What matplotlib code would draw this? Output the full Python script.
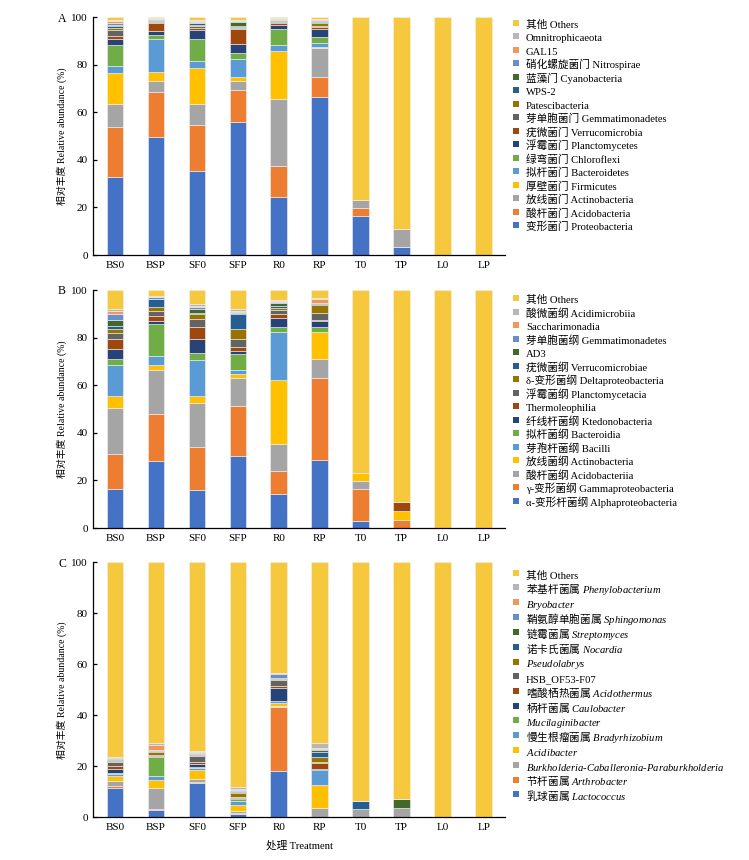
import matplotlib
matplotlib.use("Agg")
import matplotlib.pyplot as plt
from matplotlib.lines import Line2D
import numpy as np

plt.rcParams['font.family'] = ['Liberation Serif', 'Noto Sans CJK SC']
plt.rcParams['mathtext.fontset'] = 'custom'
plt.rcParams['mathtext.rm'] = 'Noto Sans CJK SC'
plt.rcParams['mathtext.it'] = 'Liberation Serif:italic'
plt.rcParams['axes.unicode_minus'] = False

samples = ["BS0", "BSP", "SF0", "SFP", "R0", "RP", "T0", "TP", "L0", "LP"]

colors = ["#4472C4", "#ED7D31", "#A5A5A5", "#FFC000", "#5B9BD5", "#70AD47",
          "#264478", "#9E480E", "#636363", "#997300", "#255E91", "#43682B",
          "#698ED0", "#F1975A", "#B7B7B7", "#F6C83E"]

# ---------- Panel A: phylum ----------
phylum_labels = ["变形菌门 Proteobacteria", "酸杆菌门 Acidobacteria", "放线菌门 Actinobacteria",
                 "厚壁菌门 Firmicutes", "拟杆菌门 Bacteroidetes", "绿弯菌门 Chloroflexi",
                 "浮霉菌门 Planctomycetes", "疣微菌门 Verrucomicrobia", "芽单胞菌门 Gemmatimonadetes",
                 "Patescibacteria", "WPS-2", "蓝藻门 Cyanobacteria", "硝化螺旋菌门 Nitrospirae",
                 "GAL15", "Omnitrophicaeota", "其他 Others"]
#                 BS0   BSP   SF0   SFP   R0    RP    T0    TP   L0   LP
phylum_values = [[33.0, 49.6, 35.5, 56.1, 24.5, 66.3, 16.5, 3.5, 0, 0],
                 [20.7, 19.0, 19.2, 13.2, 12.8, 8.6, 3.4, 0, 0, 0],
                 [10.0, 4.8, 9.0, 4.1, 28.2, 12.2, 3.4, 7.5, 0, 0],
                 [13.0, 3.6, 15.1, 1.6, 20.5, 0.2, 0, 0, 0, 0],
                 [2.8, 13.7, 3.0, 7.3, 2.5, 1.9, 0, 0, 0, 0],
                 [9.0, 1.7, 8.9, 2.7, 6.5, 2.7, 0, 0, 0, 0],
                 [2.4, 1.7, 4.0, 3.9, 1.6, 3.1, 0, 0, 0, 0],
                 [1.4, 3.7, 1.0, 6.1, 0.9, 0.8, 0, 0, 0, 0],
                 [2.5, 0.4, 0.7, 0.4, 0.4, 0.4, 0, 0, 0, 0],
                 [0.8, 0.3, 0.3, 0.4, 0.3, 1.6, 0, 0, 0, 0],
                 [0.8, 0.3, 0.8, 0.4, 0.3, 0.4, 0, 0, 0, 0],
                 [0.4, 0.2, 0.3, 1.7, 0.2, 0.4, 0, 0, 0, 0],
                 [0.7, 0.2, 0.4, 0.4, 0.3, 0.3, 0, 0, 0, 0],
                 [1.0, 0.2, 0.3, 0.3, 0.3, 0.2, 0, 0, 0, 0],
                 [0.4, 0.2, 0.4, 0.3, 0.2, 0.2, 0, 0, 0, 0],
                 [1.1, 0.4, 1.1, 1.1, 0.5, 0.7, 76.7, 89.0, 100, 100]]

# ---------- Panel B: class ----------
class_labels = ["α-变形杆菌纲 Alphaproteobacteria", "γ-变形菌纲 Gammaproteobacteria",
                "酸杆菌纲 Acidobacteriia", "放线菌纲 Actinobacteria", "芽孢杆菌纲 Bacilli",
                "拟杆菌纲 Bacteroidia", "纤线杆菌纲 Ktedonobacteria", "Thermoleophilia",
                "浮霉菌纲 Planctomycetacia", "δ-变形菌纲 Deltaproteobacteria",
                "疣微菌纲 Verrucomicrobiae", "AD3", "芽单胞菌纲 Gemmatimonadetes",
                "Saccharimonadia", "酸微菌纲 Acidimicrobiia", "其他 Others"]
class_values = [[16.5, 28.3, 16.1, 30.3, 14.3, 28.7, 3.1, 0, 0, 0],
                [14.7, 19.7, 17.9, 21.0, 9.5, 34.5, 13.4, 3.5, 0, 0],
                [19.4, 18.5, 18.5, 11.9, 11.6, 7.9, 3.4, 0, 0, 0],
                [4.9, 2.0, 3.0, 1.6, 26.6, 11.3, 3.3, 3.6, 0, 0],
                [13.0, 3.9, 14.9, 1.6, 20.5, 0.0, 0, 0, 0, 0],
                [2.4, 13.5, 3.0, 6.8, 2.0, 1.9, 0, 0, 0, 0],
                [4.5, 1.2, 6.2, 1.0, 3.9, 2.5, 0, 0, 0, 0],
                [4.2, 2.1, 4.7, 1.7, 1.5, 0.5, 0, 3.8, 0, 0],
                [2.3, 1.8, 3.7, 3.4, 1.7, 3.0, 0, 0, 0, 0],
                [1.7, 1.7, 1.8, 4.5, 0.8, 3.3, 0, 0, 0, 0],
                [1.3, 3.4, 0.5, 6.3, 0.7, 0.7, 0, 0, 0, 0],
                [2.6, 0.3, 1.9, 0.2, 1.4, 0.1, 0, 0, 0, 0],
                [2.6, 0.5, 0.8, 0.3, 0.4, 0.2, 0, 0, 0, 0],
                [0.9, 0.2, 0.3, 0.7, 0.4, 1.8, 0, 0, 0, 0],
                [1.0, 0.2, 0.8, 0.9, 0.6, 0.1, 0, 0, 0, 0],
                [8.0, 2.7, 5.9, 7.8, 4.1, 3.5, 76.8, 89.1, 100, 100]]

# ---------- Panel C: genus ----------
genus_labels = ["$\\mathrm{乳球菌属}$ $\\mathit{Lactococcus}$",
                "$\\mathrm{节杆菌属}$ $\\mathit{Arthrobacter}$",
                "$\\mathit{Burkholderia}$-$\\mathit{Caballeronia}$-$\\mathit{Paraburkholderia}$",
                "$\\mathit{Acidibacter}$",
                "$\\mathrm{慢生根瘤菌属}$ $\\mathit{Bradyrhizobium}$",
                "$\\mathit{Mucilaginibacter}$",
                "$\\mathrm{柄杆菌属}$ $\\mathit{Caulobacter}$",
                "$\\mathrm{嗜酸栖热菌属}$ $\\mathit{Acidothermus}$",
                "HSB_OF53-F07",
                "$\\mathit{Pseudolabrys}$",
                "$\\mathrm{诺卡氏菌属}$ $\\mathit{Nocardia}$",
                "$\\mathrm{链霉菌属}$ $\\mathit{Streptomyces}$",
                "$\\mathrm{鞘氨醇单胞菌属}$ $\\mathit{Sphingomonas}$",
                "$\\mathit{Bryobacter}$",
                "$\\mathrm{苯基杆菌属}$ $\\mathit{Phenylobacterium}$",
                "其他 Others"]
genus_values = [[11.6, 3.0, 13.6, 1.4, 18.3, 0, 0, 0, 0, 0],
                [0.6, 0.1, 0.4, 0.1, 25.1, 0, 0, 0, 0, 0],
                [1.9, 8.3, 0.9, 1.1, 0.4, 3.5, 3.1, 3.5, 0, 0],
                [2.0, 3.1, 3.7, 2.4, 0.9, 9.0, 0, 0, 0, 0],
                [0.9, 1.6, 0.9, 1.4, 0.9, 6.1, 0, 0, 0, 0],
                [0.4, 7.4, 0.2, 0.7, 0.2, 0.1, 0, 0, 0, 0],
                [1.6, 0.3, 1.3, 0.4, 4.8, 0.1, 0, 0, 0, 0],
                [1.0, 0.2, 0.8, 0.3, 0.8, 2.6, 0, 0, 0, 0],
                [1.8, 0.4, 2.1, 0.2, 2.5, 0.2, 0, 0, 0, 0],
                [0.4, 1.1, 0.4, 1.7, 0.3, 2.1, 0, 0, 0, 0],
                [0.3, 0.3, 0.4, 0.4, 0.2, 1.8, 3.2, 0, 0, 0],
                [0.3, 0.2, 0.2, 0.2, 0.2, 1.0, 0, 3.6, 0, 0],
                [0.3, 0.3, 0.2, 0.3, 1.5, 0.2, 0, 0, 0, 0],
                [0.4, 2.1, 0.4, 0.6, 0.4, 0.5, 0, 0, 0, 0],
                [0.3, 0.6, 0.4, 0.7, 0.2, 2.0, 0, 0, 0, 0],
                [76.2, 71.0, 74.1, 88.1, 43.3, 70.8, 93.7, 92.9, 100, 100]]

W, H = 749, 860
fig = plt.figure(figsize=(W / 100, H / 100), dpi=100)

FS = 8
LFS = 7.7
left, right = 93.3 / W, 505 / W
# letter, labels, values, axes top px, axes bottom px, legend top px, handleheight, labelspacing
panels = [
    ("A", phylum_labels, phylum_values, 17.3, 255.0, 17.5, 1.49, 0.05),
    ("B", class_labels, class_values, 290.0, 528.0, 293.0, 1.49, 0.05),
    ("C", genus_labels, genus_values, 562.3, 817.3, 566.8, 2.0, -0.17),
]

x = np.arange(len(samples))
for letter, labels, values, ytop, ybot, legtop, hh, lspace in panels:
    ax = fig.add_axes([left, 1 - ybot / H, right - left, (ybot - ytop) / H])
    bottom = np.zeros(len(samples))
    handles = []
    for i, (lab, vals) in enumerate(zip(labels, values)):
        vals = np.array(vals, dtype=float)
        ax.bar(x, vals, width=0.41, bottom=bottom, color=colors[i],
               edgecolor="#f2f2f2", linewidth=0.4)
        bottom += vals
        handles.append(Line2D([], [], linestyle='none', marker='s', markersize=4.4,
                              markerfacecolor=colors[i], markeredgewidth=0, label=lab))
    ax.set_xlim(-0.53, 9.52)
    ax.set_ylim(0, 100)
    ax.set_yticks([0, 20, 40, 60, 80, 100])
    ax.set_xticks(x)
    ax.set_xticklabels(samples)
    ax.spines['top'].set_visible(False)
    ax.spines['right'].set_visible(False)
    ax.spines['left'].set_linewidth(0.9)
    ax.spines['bottom'].set_linewidth(0.9)
    ax.tick_params(axis='y', direction='in', length=3, width=0.9, labelsize=FS, pad=4)
    ax.tick_params(axis='x', length=0, labelsize=FS, pad=4)
    ax.set_ylabel("相对丰度 Relative abundance (%)", fontsize=7.1, labelpad=3)
    fig.text(62 / W, 1 - (ytop + 1.5) / H, letter, fontsize=FS + 0.5,
             ha='center', va='center')
    fig.legend(handles[::-1], [h.get_label() for h in handles[::-1]],
               loc='upper left', bbox_to_anchor=(513 / W, 1 - legtop / H),
               frameon=False, fontsize=LFS, borderpad=0, borderaxespad=0,
               handlelength=0.6, handleheight=hh, handletextpad=0.6,
               labelspacing=lspace)
    if letter == "C":
        ax.set_xlabel("处理 Treatment", fontsize=LFS, labelpad=6)

fig.savefig("out.png", dpi=100)
